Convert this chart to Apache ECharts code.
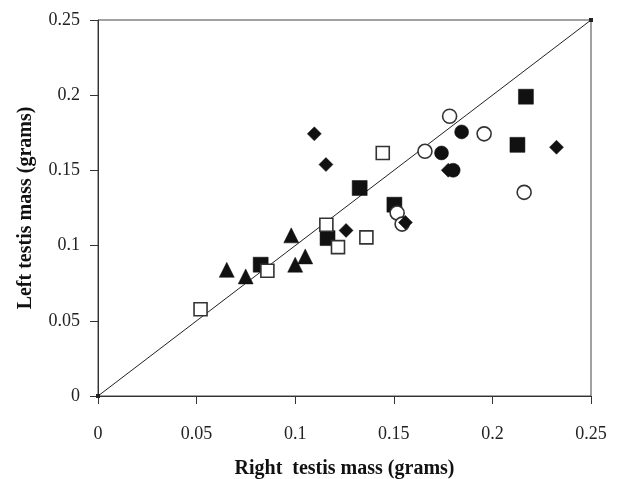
<!DOCTYPE html>
<html>
<head>
<meta charset="utf-8">
<script src="https://cdn.jsdelivr.net/npm/echarts@6/dist/echarts.min.js"></script>
<style>html,body{margin:0;padding:0;background:#fff;}#c{width:617px;height:479px;}</style>
</head>
<body>
<div id="c"></div>
<script>
// Data (right testis mass, left testis mass), grams
const filledSquares = [[0.217,0.199],[0.2127,0.167],[0.1327,0.1383],[0.1503,0.1272],[0.1164,0.105],[0.0825,0.0873]];
const openSquares = [[0.1444,0.1616],[0.1158,0.1139],[0.1361,0.1055],[0.1217,0.099],[0.0859,0.0833],[0.052,0.0577]];
const filledDiamonds = [[0.1097,0.1743],[0.1156,0.1539],[0.1258,0.1101],[0.1559,0.1154],[0.2325,0.1654],[0.1776,0.1501]];
const filledCircles = [[0.1844,0.1756],[0.1742,0.1616],[0.1801,0.1501]];
const openCircles = [[0.1783,0.186],[0.1958,0.1743],[0.1658,0.1627],[0.2161,0.1354],[0.1517,0.1217],[0.1542,0.1143]];
const filledTriangles = [[0.098,0.1068],[0.1051,0.0928],[0.1,0.0873],[0.0653,0.0839],[0.0749,0.0795]];
const identityLine = [[0,0],[0.25,0.25]];
const tickValues = [0,0.05,0.1,0.15,0.2,0.25];

const chart = echarts.init(document.getElementById('c'));
const font = 'Liberation Serif';
const axisCommon = {
  type: 'value', min: 0, max: 0.25, interval: 0.05,
  axisLine: {show: true, lineStyle: {color: '#333', width: 1}},
  axisTick: {show: true, inside: false, length: 8, lineStyle: {color: '#333'}},
  splitLine: {show: false},
  nameLocation: 'middle',
  nameTextStyle: {fontFamily: font, fontWeight: 'bold', fontSize: 20, color: '#111'},
  axisLabel: {fontFamily: font, fontSize: 18, color: '#222',
    formatter: v => String(+v.toFixed(2))}
};
const black = '#111';
function sc(name, data, symbol, size, filled) {
  return {
    type: 'scatter', name, data, symbol, symbolSize: size,
    itemStyle: filled ? {color: black, borderColor: black, borderWidth: 0.5, opacity: 1}
                      : {color: '#fff', borderColor: '#333', borderWidth: 1.6, opacity: 1},
    z: 3
  };
}
chart.setOption({
  animation: false,
  backgroundColor: '#fff',
  grid: {left: 98, right: 26, top: 20, bottom: 83, show: true, borderColor: '#444', borderWidth: 1,
         containLabel: false, outerBoundsMode: 'none'},
  xAxis: Object.assign({}, axisCommon, {
    name: 'Right  testis mass (grams)', nameGap: 63,
    axisLabel: Object.assign({}, axisCommon.axisLabel, {margin: 29})
  }),
  yAxis: Object.assign({}, axisCommon, {
    name: 'Left testis mass (grams)', nameGap: 62,
    axisLabel: Object.assign({}, axisCommon.axisLabel, {margin: 18})
  }),
  series: [
    {type: 'line', data: identityLine, symbol: 'rect', symbolSize: 4, showSymbol: true,
     lineStyle: {color: '#222', width: 1}, itemStyle: {color: '#222'}, z: 2},
    sc('filledSquares', filledSquares, 'rect', 15, true),
    sc('openSquares', openSquares, 'rect', 13, false),
    sc('openCircles', openCircles, 'circle', 14, false),
    sc('filledCircles', filledCircles, 'circle', 14, true),
    sc('filledDiamonds', filledDiamonds, 'diamond', 14, true),
    sc('filledTriangles', filledTriangles, 'triangle', 15, true)
  ]
});
</script>
</body>
</html>
